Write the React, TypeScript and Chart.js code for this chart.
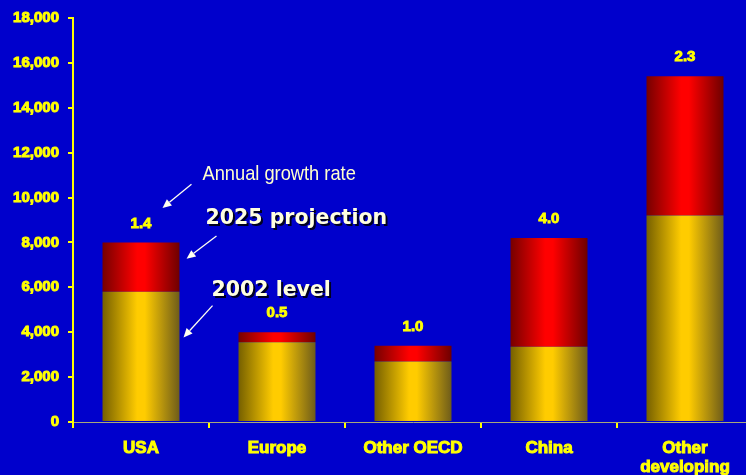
import React, { useEffect, useRef } from "react";
import { Chart, registerables } from "chart.js";

Chart.register(...registerables);

// ---- data ----
const categories: (string | string[])[] = ["USA", "Europe", "Other OECD", "China", ["Other", "developing"]];
const level2002 = [5800, 3550, 2700, 3350, 9200];
const projection2025 = [8000, 4000, 3400, 8200, 15400];
const growthRates = ["1.4", "0.5", "1.0", "4.0", "2.3"];
const yMax = 18000;
const yStep = 2000;

const increment = projection2025.map((v, i) => v - level2002[i]);

const BG = "#0000CC";
const YELLOW = "#FFFF00";
const BAR_PCT = 0.566;

function gradientFor(stops: [number, string][]) {
  return (c: any) => {
    const chart = c.chart;
    const xs = chart.scales?.x;
    const area = chart.chartArea;
    if (!xs || !area || c.dataIndex == null) return stops[1][1];
    const cx = xs.getPixelForValue(c.dataIndex);
    const w = ((area.right - area.left) / categories.length) * BAR_PCT;
    const g = chart.ctx.createLinearGradient(cx - w / 2, 0, cx + w / 2, 0);
    stops.forEach(([o, col]) => g.addColorStop(o, col));
    return g;
  };
}

const goldStops: [number, string][] = [
  [0, "#766000"],
  [0.45, "#FFCC00"],
  [0.55, "#FFCC00"],
  [1, "#6E5C1A"],
];
const redStops: [number, string][] = [
  [0, "#760000"],
  [0.45, "#FF0000"],
  [0.55, "#FF0000"],
  [1, "#6E0000"],
];

// annotation positions in data units (x: category index, y: value)
const growthNote = { text: "Annual growth rate", x: 0.452, y: 11040 };
const projNote = { text: "2025 projection", x: 0.474, y: 9044 };
const levelNote = { text: "2002 level", x: 0.518, y: 5852 };
const arrows = [
  { x1: 0.371, y1: 10596, x2: 0.158, y2: 9532 },
  { x1: 0.555, y1: 8290, x2: 0.335, y2: 7271 },
  { x1: 0.526, y1: 5187, x2: 0.3125, y2: 3768 },
];

const overlayPlugin = {
  id: "overlay",
  afterDatasetsDraw(chart: any) {
    const { ctx, scales } = chart;
    const xs = scales.x;
    const ys = scales.y;
    const px = (v: number) => xs.getPixelForValue(0) + v * (xs.getPixelForValue(1) - xs.getPixelForValue(0));
    const py = (v: number) => ys.getPixelForValue(v);
    ctx.save();
    // growth rate labels
    ctx.font = "bold 15px 'Liberation Sans', Arial, sans-serif";
    ctx.fillStyle = YELLOW;
    ctx.strokeStyle = YELLOW;
    ctx.lineWidth = 0.9;
    ctx.textAlign = "center";
    ctx.textBaseline = "middle";
    growthRates.forEach((g, i) => {
      const x = xs.getPixelForValue(i);
      const y = py(projection2025[i]) - 19;
      ctx.strokeText(g, x, y);
      ctx.fillText(g, x, y);
    });

    // "Annual growth rate" (narrow)
    ctx.save();
    ctx.font = "21px 'Liberation Sans', Arial, sans-serif";
    ctx.fillStyle = "#FFFFCC";
    ctx.textAlign = "left";
    ctx.translate(px(growthNote.x), py(growthNote.y));
    ctx.scale(0.87, 1);
    ctx.fillText(growthNote.text, 0, 0);
    ctx.restore();

    // bold notes with shadow
    ctx.save();
    ctx.font = "bold 20.5px 'DejaVu Sans', Verdana, sans-serif";
    ctx.textAlign = "left";
    ctx.textBaseline = "middle";
    ctx.shadowColor = "rgba(0,0,0,0.85)";
    ctx.shadowOffsetX = 2;
    ctx.shadowOffsetY = 2;
    ctx.shadowBlur = 0;
    ctx.fillStyle = "#FFFFE0";
    [projNote, levelNote].forEach((n) => ctx.fillText(n.text, px(n.x), py(n.y)));
    ctx.restore();

    // arrows
    ctx.strokeStyle = "#FFFFF0";
    ctx.fillStyle = "#FFFFF0";
    ctx.lineWidth = 1.3;
    arrows.forEach((a) => {
      const x1 = px(a.x1), y1 = py(a.y1), x2 = px(a.x2), y2 = py(a.y2);
      const ang = Math.atan2(y2 - y1, x2 - x1);
      const hl = 9, hw = 4;
      const bx = x2 - hl * Math.cos(ang), by = y2 - hl * Math.sin(ang);
      ctx.beginPath();
      ctx.moveTo(x1, y1);
      ctx.lineTo(bx, by);
      ctx.stroke();
      ctx.beginPath();
      ctx.moveTo(x2, y2);
      ctx.lineTo(bx + hw * Math.sin(ang), by - hw * Math.cos(ang));
      ctx.lineTo(bx - hw * Math.sin(ang), by + hw * Math.cos(ang));
      ctx.closePath();
      ctx.fill();
    });
    ctx.restore();
  },
};

export default function App() {
  const ref = useRef<HTMLCanvasElement>(null);
  useEffect(() => {
    if (!ref.current) return;
    const chart = new Chart(ref.current, {
      type: "bar",
      data: {
        labels: categories,
        datasets: [
          {
            label: "2002 level",
            data: level2002,
            backgroundColor: gradientFor(goldStops) as any,
            borderWidth: 0,
            barPercentage: BAR_PCT,
            categoryPercentage: 1,
          },
          {
            label: "2025 projection",
            data: increment,
            backgroundColor: gradientFor(redStops) as any,
            borderWidth: 0,
            barPercentage: BAR_PCT,
            categoryPercentage: 1,
          },
        ],
      },
      options: {
        responsive: false,
        animation: false,
        devicePixelRatio: 1,
        layout: { padding: { left: 0, right: 7, top: 16, bottom: 0 } },
        plugins: { legend: { display: false }, tooltip: { enabled: false } },
        scales: {
          x: {
            stacked: true,
            afterFit: (s: any) => {
              s.height = 53;
            },
            grid: {
              display: true,
              drawOnChartArea: false,
              drawTicks: true,
              tickLength: 6,
              color: YELLOW,
              lineWidth: 2,
              offset: true,
            },
            border: { display: true, color: "#A8A878", width: 1 },
            ticks: {
              color: YELLOW,
              textStrokeColor: YELLOW,
              textStrokeWidth: 1,
              font: { family: "'Liberation Sans', Arial, sans-serif", size: 17, weight: "bold", lineHeight: 1.1 },
              padding: 11,
              maxRotation: 0,
              autoSkip: false,
            },
          },
          y: {
            stacked: true,
            min: 0,
            max: yMax,
            afterFit: (s: any) => {
              s.width = 73;
            },
            grid: {
              display: true,
              drawOnChartArea: false,
              drawTicks: true,
              tickLength: 5,
              color: YELLOW,
              lineWidth: 2,
            },
            border: { display: true, color: YELLOW, width: 2 },
            ticks: {
              stepSize: yStep,
              color: YELLOW,
              textStrokeColor: YELLOW,
              textStrokeWidth: 1,
              padding: 9,
              font: { family: "'Liberation Sans', Arial, sans-serif", size: 15, weight: "bold" },
              callback: (v: any) => Number(v).toLocaleString("en-US"),
            },
          },
        },
      },
      plugins: [overlayPlugin],
    });
    return () => chart.destroy();
  }, []);

  return (
    <div
      style={{
        position: "fixed",
        left: 0,
        top: 0,
        width: 746,
        height: 475,
        overflow: "hidden",
        background: BG,
      }}
    >
      <canvas ref={ref} width={760} height={475} style={{ display: "block", width: 760, height: 475 }} />
    </div>
  );
}
